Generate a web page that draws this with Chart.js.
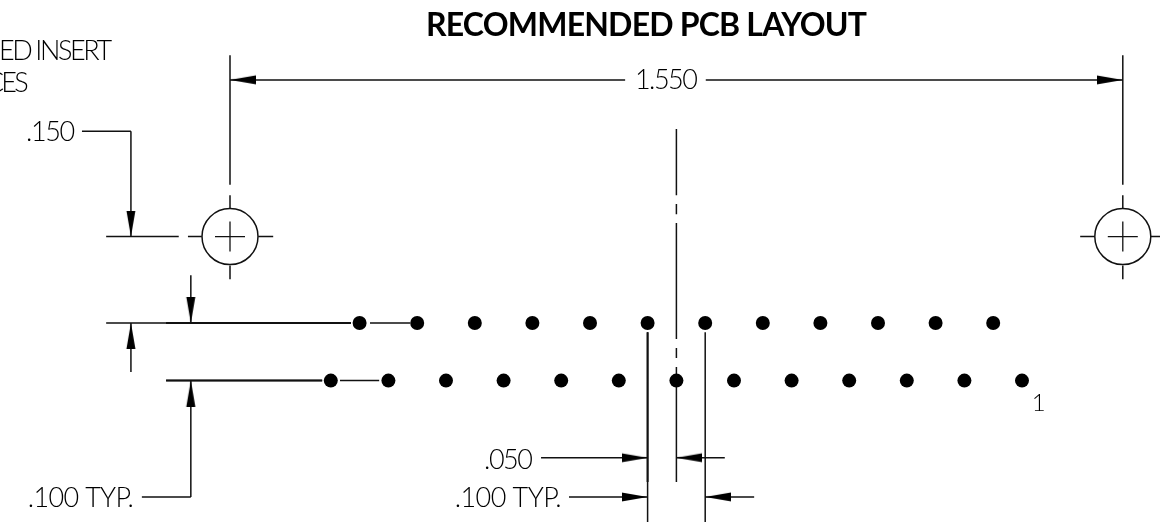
<!DOCTYPE html>
<html>
<head>
<meta charset="utf-8">
<title>Recommended PCB layout</title>
<script src="https://cdn.jsdelivr.net/npm/chart.js@4"></script>
<style>
  html, body { margin: 0; padding: 0; background: #fff; }
  canvas { display: block; }
</style>
</head>
<body>
<canvas id="pcbChart" width="1160" height="529"></canvas>
<script>
// ------------------------------------------------------------
// DATA (all values in inches, origin: left hole x / lower pin row y)
// ------------------------------------------------------------
const holesX = [0, 1.55];
const holesY = [0.25, 0.25];

const pinsTopX = [0.225, 0.325, 0.425, 0.525, 0.625, 0.725, 0.825, 0.925, 1.025, 1.125, 1.225, 1.325];
const pinsBottomX = [0.175, 0.275, 0.375, 0.475, 0.575, 0.675, 0.775, 0.875, 0.975, 1.075, 1.175, 1.275, 1.375];
const pinsTopY = 0.1;
const pinsBottomY = 0;

// x1, y1, x2, y2
const dimensionLines = [
  // 1.550
  [0, 0.522, 0.686, 0.522], [0.826, 0.522, 1.55, 0.522],
  // extension + centre lines of both holes
  [0, 0.565, 0, 0.34], [0, 0.322, 0, 0.298], [0, 0.2, 0, 0.176],
  [1.55, 0.565, 1.55, 0.34], [1.55, 0.322, 1.55, 0.298], [1.55, 0.2, 1.55, 0.176],
  [-0.073, 0.25, -0.049, 0.25], [0.049, 0.25, 0.075, 0.25],
  [1.476, 0.25, 1.501, 0.25], [1.599, 0.25, 1.615, 0.25],
  // .150
  [-0.215, 0.25, -0.089, 0.25], [-0.257, 0.433, -0.172, 0.433], [-0.172, 0.433, -0.172, 0.25],
  // row spacing
  [-0.215, 0.1, 0.21, 0.1], [0.243, 0.1, 0.3125, 0.1],
  [-0.111, 0, 0.16, 0], [0.191, 0, 0.259, 0],
  [-0.068, 0.183, -0.068, 0.1], [-0.172, 0.015, -0.172, 0.1],
  [-0.153, -0.202, -0.068, -0.202], [-0.068, -0.202, -0.068, 0],
  // connector centre line
  [0.775, 0.437, 0.775, 0.322], [0.775, 0.3066, 0.775, 0.289], [0.775, 0.2736, 0.775, 0.0722],
  [0.775, 0.0566, 0.775, 0.0392], [0.775, 0.0236, 0.775, -0.176],
  // pin pitch
  [0.725, 0.084, 0.725, -0.2455], [0.825, 0.084, 0.825, -0.2455],
  [0.54, -0.134, 0.725, -0.134], [0.775, -0.134, 0.859, -0.134],
  [0.5885, -0.202, 0.725, -0.202], [0.825, -0.202, 0.91, -0.202],
];

// Overlapping lines that print heavier in the drawing
const heavyLines = [
  [0.725, 0.084, 0.725, -0.176],
  [-0.111, 0.1, 0.21, 0.1],
  [-0.111, 0, 0.16, 0],
];

// x, y, rotation in degrees (0 = pointing right)
const arrowTips = [
  [0, 0.522, 180], [1.55, 0.522, 0],
  [-0.172, 0.25, 90],
  [-0.068, 0.1, 90], [-0.172, 0.1, 270], [-0.068, 0, 270],
  [0.725, -0.134, 0], [0.775, -0.134, 180],
  [0.725, -0.202, 0], [0.825, -0.202, 180],
];

const titleText = "RECOMMENDED PCB LAYOUT";

// text, x, y (baseline), fitted width in px
const dimensionLabels = [
  ["ED INSERT", -0.401, 0.5566, 113],
  ["CES", -0.424, 0.501, 43],
  ["1.550", 0.703, 0.5057, 63],
  [".150", -0.354, 0.416, 49],
  [".100 TYP.", -0.351, -0.2194, 106],
  [".050", 0.441, -0.1535, 49],
  [".100 TYP.", 0.39, -0.2194, 107],
];
const pinOneLabel = ["1", 1.392, -0.0528];

// ------------------------------------------------------------
// HELPERS
// ------------------------------------------------------------
const INK = "#111";
const FONT_FAMILY = "Lato, 'Open Sans', sans-serif";

function toPoints(xs, y) {
  return xs.map((x, i) => ({ x, y: Array.isArray(y) ? y[i] : y }));
}

function segmentsToPoints(segments) {
  const pts = [];
  for (const [x1, y1, x2, y2] of segments) {
    pts.push({ x: x1, y: y1 }, { x: x2, y: y2 }, { x: x2, y: null });
  }
  return pts;
}

// Arrowhead sprite: tip sits on the image centre so it lands on the data point
function arrowSprite() {
  const c = document.createElement("canvas");
  c.width = 52;
  c.height = 52;
  const g = c.getContext("2d");
  g.fillStyle = "#000";
  g.beginPath();
  g.moveTo(26, 26);
  g.lineTo(0, 21.5);
  g.lineTo(0, 30.5);
  g.closePath();
  g.fill();
  return c;
}

function drawFitted(ctx, text, x, y, width) {
  ctx.letterSpacing = "0px";
  const natural = ctx.measureText(text).width;
  ctx.letterSpacing = (width - natural) / Math.max(text.length - 1, 1) + "px";
  ctx.fillText(text, x, y);
  ctx.letterSpacing = "0px";
}

// ------------------------------------------------------------
// TEXT PLUGIN
// ------------------------------------------------------------
const drawingText = {
  id: "drawingText",
  afterDatasetsDraw(chart) {
    const { ctx, scales } = chart;
    ctx.save();
    ctx.fillStyle = "#000";
    ctx.textBaseline = "alphabetic";
    ctx.textAlign = "left";

    ctx.font = "300 27px " + FONT_FAMILY;
    for (const [text, x, y, width] of dimensionLabels) {
      drawFitted(ctx, text, scales.x.getPixelForValue(x), scales.y.getPixelForValue(y), width);
    }

    ctx.font = "300 24px " + FONT_FAMILY;
    ctx.fillText(pinOneLabel[0], scales.x.getPixelForValue(pinOneLabel[1]), scales.y.getPixelForValue(pinOneLabel[2]));

    ctx.font = "bold 32px " + FONT_FAMILY;
    drawFitted(ctx, titleText, 426, scales.y.getPixelForValue(0.598), 441);
    ctx.restore();
  },
};

// ------------------------------------------------------------
// CHART
// ------------------------------------------------------------
new Chart(document.getElementById("pcbChart"), {
  type: "scatter",
  plugins: [drawingText],
  data: {
    datasets: [
      {
        label: "Pins top",
        data: toPoints(pinsTopX, pinsTopY),
        pointRadius: 7,
        pointBackgroundColor: "#000",
        pointBorderWidth: 0,
      },
      {
        label: "Pins bottom",
        data: toPoints(pinsBottomX, pinsBottomY),
        pointRadius: 7,
        pointBackgroundColor: "#000",
        pointBorderWidth: 0,
      },
      {
        label: "Holes",
        data: toPoints(holesX, holesY),
        pointRadius: 28,
        pointBackgroundColor: "transparent",
        pointBorderColor: INK,
        pointBorderWidth: 1.5,
      },
      {
        label: "Hole centres",
        data: toPoints(holesX, holesY),
        pointStyle: "cross",
        pointRadius: 15,
        pointBorderColor: INK,
        pointBorderWidth: 1.3,
      },
      {
        label: "Arrows",
        data: arrowTips.map(([x, y]) => ({ x, y })),
        pointStyle: arrowSprite(),
        pointRadius: 26,
        pointRotation: arrowTips.map((a) => a[2]),
        clip: false,
      },
      {
        label: "Heavy lines",
        data: segmentsToPoints(heavyLines),
        showLine: true,
        spanGaps: false,
        borderColor: INK,
        borderWidth: 2,
        pointRadius: 0,
      },
      {
        label: "Dimension lines",
        data: segmentsToPoints(dimensionLines),
        showLine: true,
        spanGaps: false,
        borderColor: INK,
        borderWidth: 1.5,
        pointRadius: 0,
      },
    ],
  },
  options: {
    responsive: false,
    animation: false,
    layout: { padding: 0, autoPadding: false },
    plugins: {
      legend: { display: false },
      tooltip: { enabled: false },
      title: { display: false },
    },
    scales: {
      x: { type: "linear", display: false, min: -230 / 576, max: 930 / 576 },
      y: { type: "linear", display: false, min: -148.4 / 576, max: 380.6 / 576 },
    },
  },
});
</script>
</body>
</html>
